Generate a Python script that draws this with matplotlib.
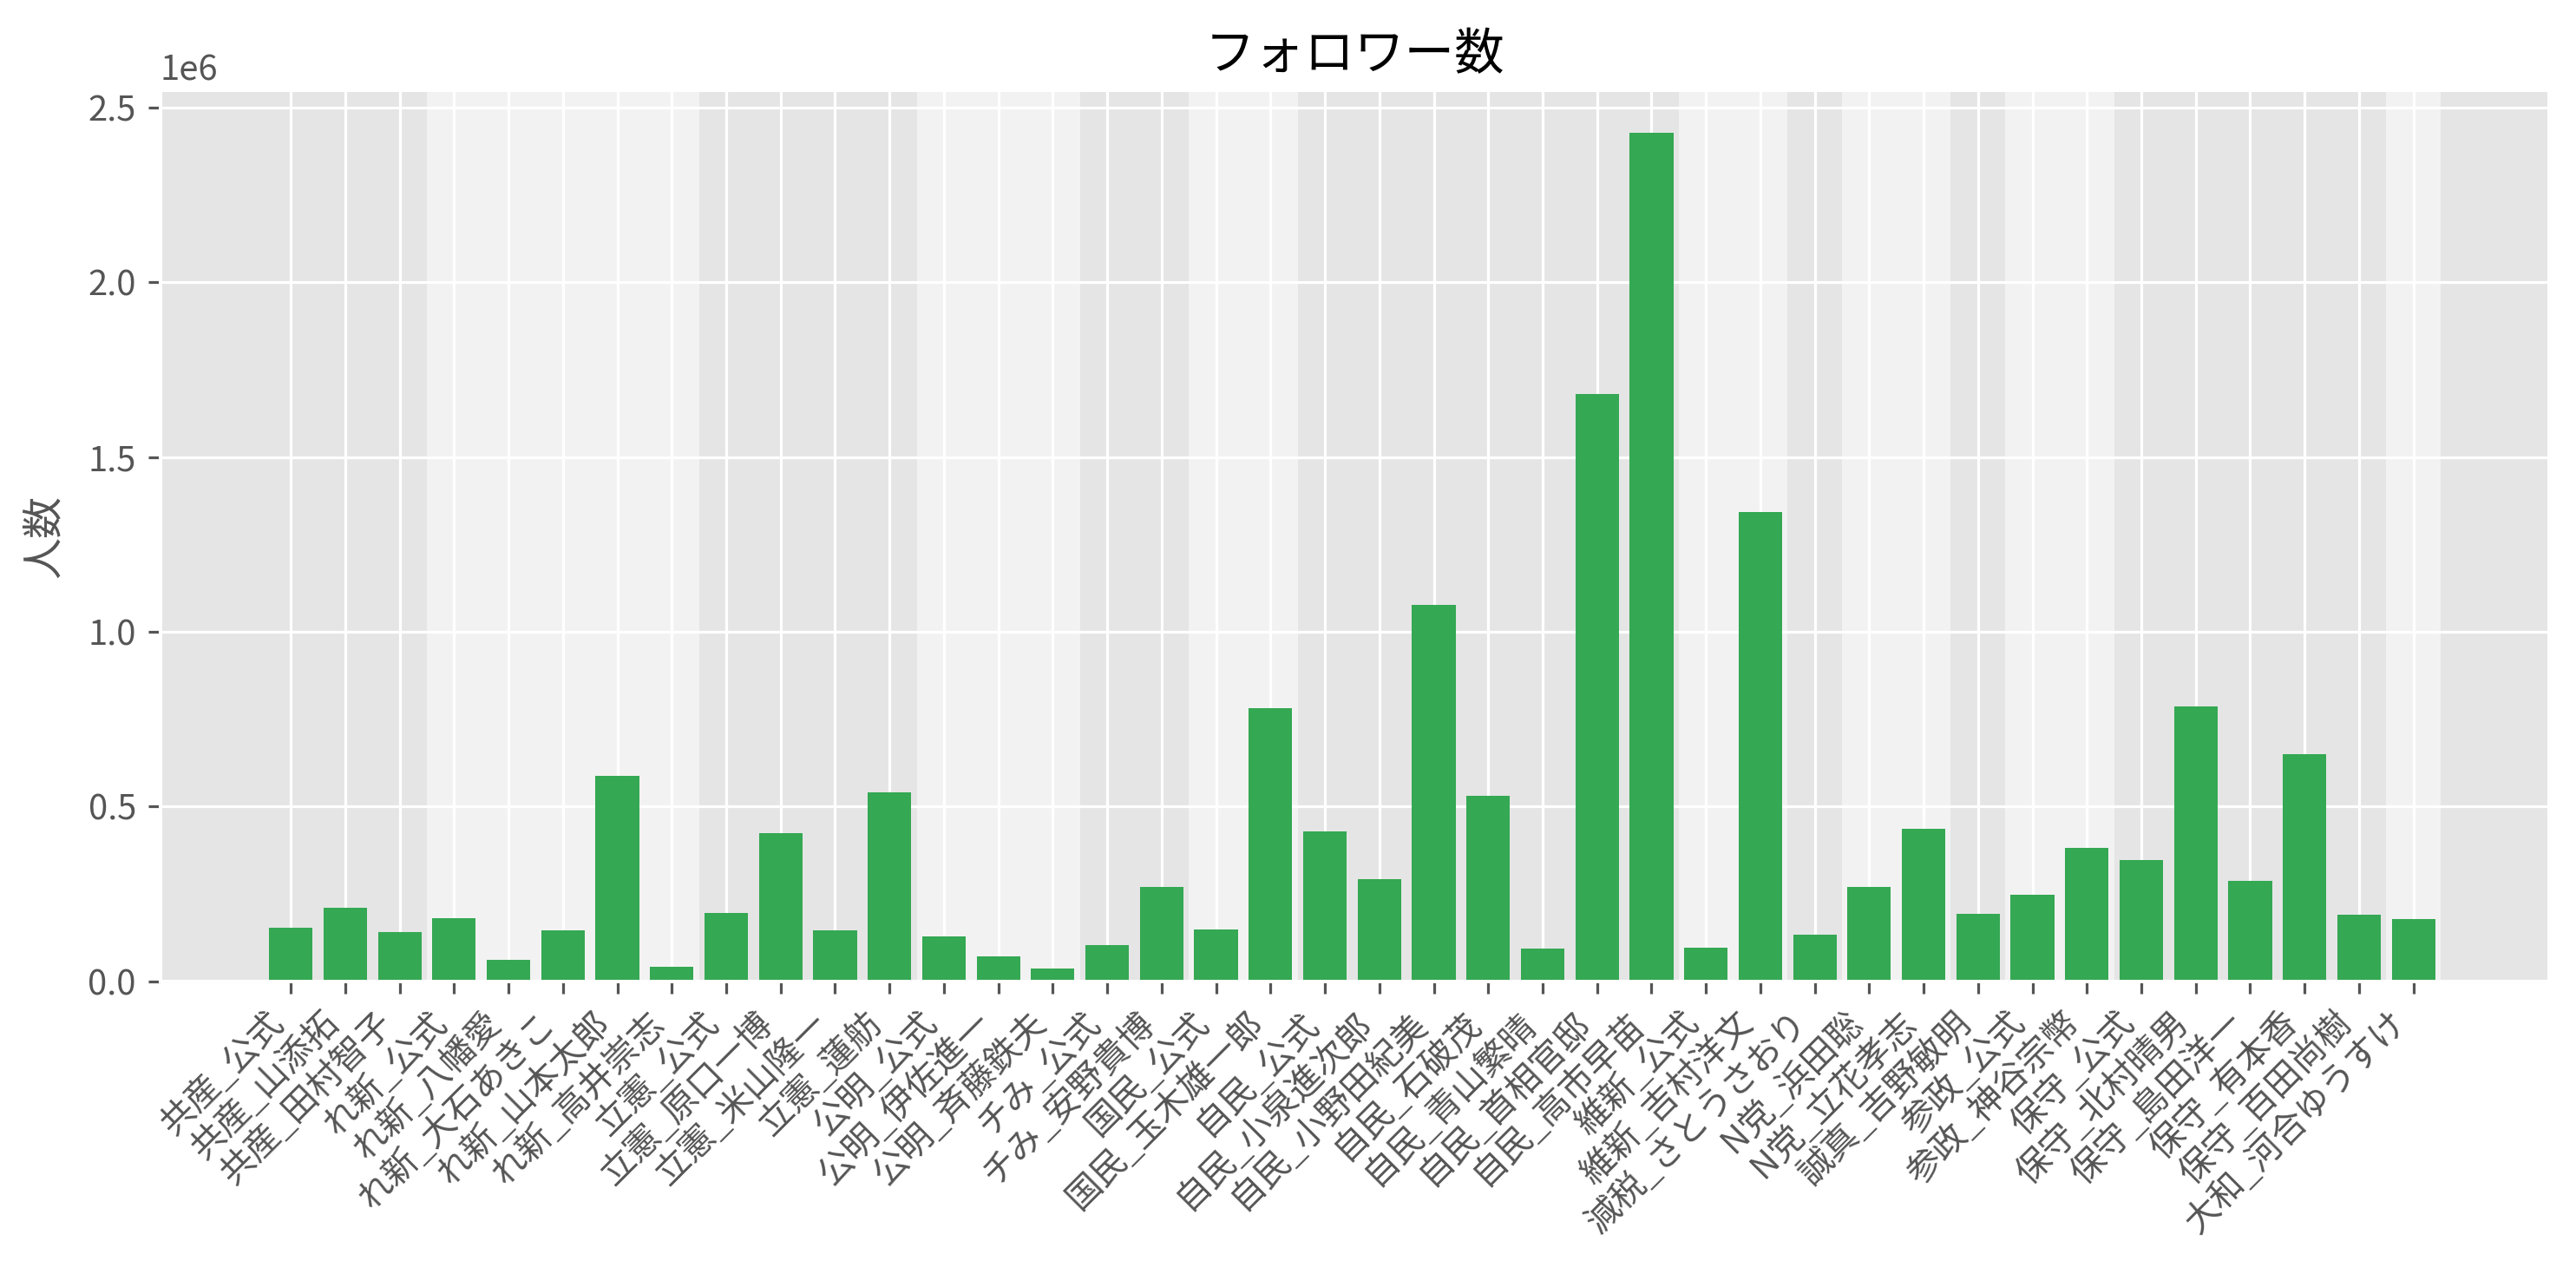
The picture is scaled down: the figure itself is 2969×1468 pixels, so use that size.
import matplotlib
matplotlib.use("Agg")
import matplotlib.pyplot as plt

plt.style.use("ggplot")
plt.rcParams["font.family"] = ["Noto Sans CJK JP", "DejaVu Sans"]

# party groups (shaded alternately)
parties = ["共産", "れ新", "立憲", "公明", "チみ", "国民", "自民", "維新",
           "減税", "N党", "誠真", "参政", "保守", "大和"]

accounts = [
    "共産_公式", "共産_山添拓", "共産_田村智子",
    "れ新_公式", "れ新_八幡愛", "れ新_大石あきこ", "れ新_山本太郎", "れ新_高井崇志",
    "立憲_公式", "立憲_原口一博", "立憲_米山隆一", "立憲_蓮舫",
    "公明_公式", "公明_伊佐進一", "公明_斉藤鉄夫",
    "チみ_公式", "チみ_安野貴博",
    "国民_公式", "国民_玉木雄一郎",
    "自民_公式", "自民_小泉進次郎", "自民_小野田紀美", "自民_石破茂",
    "自民_青山繁晴", "自民_首相官邸", "自民_高市早苗",
    "維新_公式", "維新_吉村洋文",
    "減税_さとうさおり",
    "N党_浜田聡", "N党_立花孝志",
    "誠真_吉野敏明",
    "参政_公式", "参政_神谷宗幣",
    "保守_公式", "保守_北村晴男", "保守_島田洋一", "保守_有本香", "保守_百田尚樹",
    "大和_河合ゆうすけ",
]

followers = [
    154000, 211000, 142000,
    182000, 62000, 147000, 587000, 42000,
    197000, 425000, 147000, 542000,
    128000, 73000, 36000,
    103000, 271000,
    150000, 782000,
    430000, 292000, 1076000, 532000,
    93000, 1681000, 2427000,
    96000, 1343000,
    133000,
    271000, 437000,
    193000,
    248000, 383000,
    348000, 787000, 288000, 650000, 191000,
    178000,
]

DPI = 288
fig = plt.figure(figsize=(2969 / DPI, 1468 / DPI), dpi=DPI)
ax = fig.add_axes([0.0623, 0.2296, 0.9273, 0.6994])

x = list(range(len(accounts)))
ax.bar(x, followers, color="#34a853", zorder=2)

# light band for every other party
prefixes = [a.split("_")[0] for a in accounts]
for k, p in enumerate(parties):
    idx = [i for i, q in enumerate(prefixes) if q == p]
    if k % 2 == 1:
        ax.axvspan(min(idx) - 0.5, max(idx) + 0.5, color="white", alpha=0.5,
                   lw=0, zorder=0.3)

ax.set_xticks(x)
ax.set_xticklabels(accounts, rotation=45, ha="right")
ax.set_title("フォロワー数")
ax.set_ylabel("人数", labelpad=6.5)

fig.savefig("out.png", dpi=DPI)
